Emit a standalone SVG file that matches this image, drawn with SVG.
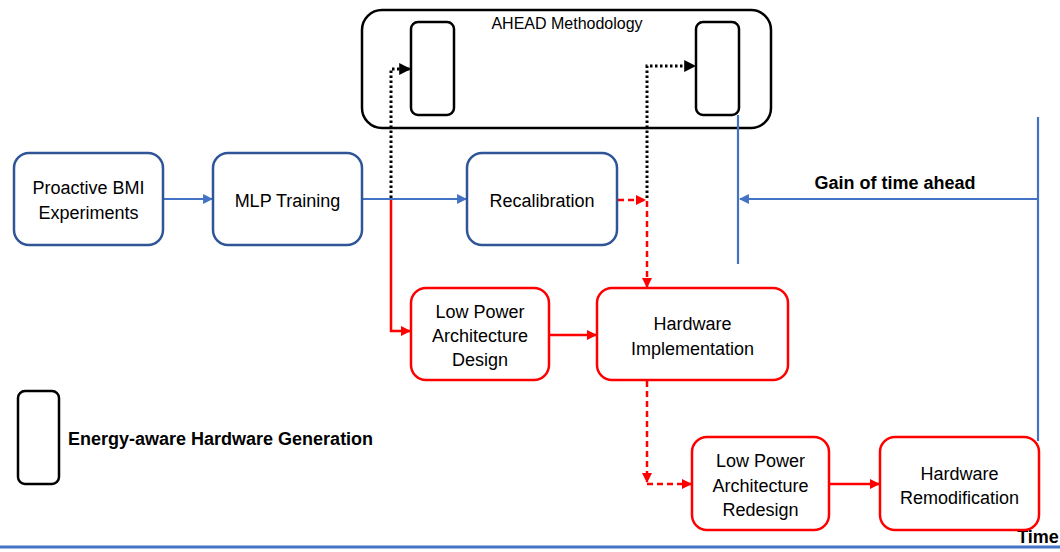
<svg xmlns="http://www.w3.org/2000/svg" width="1060" height="552" viewBox="0 0 1060 552">
  <defs>
    <marker id="ahBlue" viewBox="0 0 10 10" refX="9" refY="5" markerWidth="4.5" markerHeight="4.5" orient="auto" markerUnits="strokeWidth">
      <path d="M0,0 L10,5 L0,10 z" fill="#4472C4"/>
    </marker>
    <marker id="ahRed" viewBox="0 0 10 10" refX="9" refY="5" markerWidth="4" markerHeight="4" orient="auto" markerUnits="strokeWidth">
      <path d="M0,0 L10,5 L0,10 z" fill="#FF0000"/>
    </marker>
    <marker id="ahBlack" viewBox="0 0 10 10" refX="9" refY="5" markerWidth="4" markerHeight="4" orient="auto" markerUnits="strokeWidth">
      <path d="M0,0 L10,5 L0,10 z" fill="#000000"/>
    </marker>
  </defs>
  <style>
    text { font-family: "Liberation Sans", Arial, sans-serif; fill: #000; }
    .lbl { font-size: 18px; text-anchor: middle; }
    .bold { font-weight: bold; font-size: 18px; }
    .blueNode { fill: #fff; stroke: #2F5597; stroke-width: 2.5; }
    .redNode { fill: #fff; stroke: #FF0000; stroke-width: 2.5; }
    .blackBox { fill: none; stroke: #000; stroke-width: 2.5; }
    .blueLine { fill: none; stroke: #4472C4; stroke-width: 2.2; }
    .redLine { fill: none; stroke: #FF0000; stroke-width: 2.5; }
    .redDash { fill: none; stroke: #FF0000; stroke-width: 2.5; stroke-dasharray: 6 4; }
    .dotted { fill: none; stroke: #000; stroke-width: 3; stroke-dasharray: 2.5 2.5; }
  </style>
  <rect width="1060" height="552" fill="#fff"/>

  <!-- AHEAD methodology container -->
  <g id="ahead">
    <rect class="blackBox" x="362" y="10" width="409" height="118" rx="20"/>
    <rect class="blackBox" x="411" y="22" width="43" height="93" rx="7"/>
    <rect class="blackBox" x="696" y="22" width="43" height="93" rx="7"/>
    <text x="567" y="29" style="font-size:16px" text-anchor="middle">AHEAD Methodology</text>
  </g>

  <!-- legend -->
  <g id="legend">
    <rect class="blackBox" x="18" y="391" width="41" height="93" rx="7"/>
    <text class="bold" x="68" y="445">Energy-aware Hardware Generation</text>
  </g>

  <!-- time gain markers and axis -->
  <g id="timeline">
    <line class="blueLine" x1="738" y1="115" x2="738" y2="264"/>
    <line class="blueLine" x1="1038" y1="117" x2="1038" y2="441"/>
    <line class="blueLine" x1="1038" y1="199" x2="740" y2="199" marker-end="url(#ahBlue)"/>
    <text class="bold" x="895" y="189" text-anchor="middle">Gain of time ahead</text>
    <line x1="0" y1="547" x2="1060" y2="547" stroke="#4472C4" stroke-width="3"/>
    <text class="bold" x="1038" y="543" text-anchor="middle">Time</text>
  </g>

  <!-- connectors -->
  <g id="connectors">
    <line class="blueLine" x1="163" y1="199" x2="212" y2="199" marker-end="url(#ahBlue)"/>
    <line class="blueLine" x1="362" y1="199" x2="466" y2="199" marker-end="url(#ahBlue)"/>
    <polyline class="dotted" points="391,198 391,69 410,69" marker-end="url(#ahBlack)"/>
    <polyline class="dotted" points="647,198 647,66 695,66" marker-end="url(#ahBlack)"/>
    <polyline class="redLine" points="391,200 391,331 410,331" marker-end="url(#ahRed)"/>
    <line class="redDash" x1="618" y1="200" x2="645" y2="200" marker-end="url(#ahRed)"/>
    <line class="redDash" x1="647" y1="201" x2="647" y2="287" marker-end="url(#ahRed)"/>
    <line class="redLine" x1="549" y1="335" x2="596" y2="335" marker-end="url(#ahRed)"/>
    <line class="redDash" x1="647" y1="381" x2="647" y2="482" marker-end="url(#ahRed)"/>
    <line class="redDash" x1="647" y1="484" x2="691" y2="484" marker-end="url(#ahRed)"/>
    <line class="redLine" x1="829" y1="484" x2="879" y2="484" marker-end="url(#ahRed)"/>
  </g>

  <!-- process nodes -->
  <g id="proactive-bmi">
    <rect class="blueNode" x="14" y="153" width="149" height="92" rx="15"/>
    <text class="lbl" x="88.5" y="194">Proactive BMI</text>
    <text class="lbl" x="88.5" y="219">Experiments</text>
  </g>
  <g id="mlp-training">
    <rect class="blueNode" x="213" y="153" width="149" height="92" rx="15"/>
    <text class="lbl" x="287.5" y="207">MLP Training</text>
  </g>
  <g id="recalibration">
    <rect class="blueNode" x="467" y="153" width="150" height="92" rx="15"/>
    <text class="lbl" x="542" y="207">Recalibration</text>
  </g>
  <g id="lp-design">
    <rect class="redNode" x="411" y="288" width="138" height="92" rx="15"/>
    <text class="lbl" x="480" y="318">Low Power</text>
    <text class="lbl" x="480" y="342">Architecture</text>
    <text class="lbl" x="480" y="366">Design</text>
  </g>
  <g id="hw-implementation">
    <rect class="redNode" x="597" y="288" width="191" height="92" rx="15"/>
    <text class="lbl" x="692.5" y="330">Hardware</text>
    <text class="lbl" x="692.5" y="355">Implementation</text>
  </g>
  <g id="lp-redesign">
    <rect class="redNode" x="692" y="437" width="137" height="93" rx="15"/>
    <text class="lbl" x="760.5" y="467">Low Power</text>
    <text class="lbl" x="760.5" y="492">Architecture</text>
    <text class="lbl" x="760.5" y="516">Redesign</text>
  </g>
  <g id="hw-remodification">
    <rect class="redNode" x="880" y="437" width="159" height="93" rx="15"/>
    <text class="lbl" x="959.5" y="480">Hardware</text>
    <text class="lbl" x="959.5" y="504">Remodification</text>
  </g>
</svg>
